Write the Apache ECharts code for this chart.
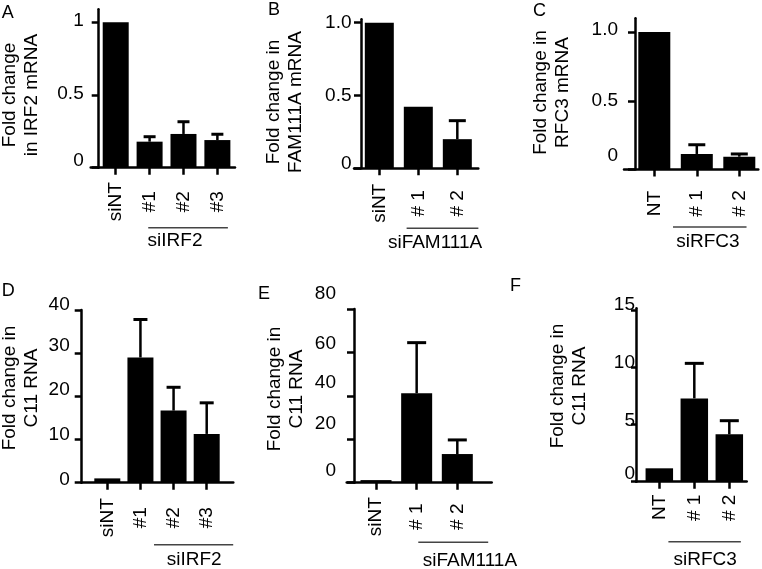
<!DOCTYPE html>
<html><head><meta charset="utf-8">
<script src="https://cdn.jsdelivr.net/npm/echarts@6/dist/echarts.min.js"></script>
<style>html,body{margin:0;padding:0;background:#fff}#c{width:762px;height:569px}</style>
</head><body><div id="c"></div>
<script>
const FONT = '"Liberation Sans", Arial, Helvetica, sans-serif';

// ---- data ----
const catsA = ['siNT', '#1', '#2', '#3'];
const valsA = [1.0, 0.179, 0.232, 0.19];
const errsA = [0, 0.034, 0.084, 0.04];
const yTicksA = [0, 0.5, 1];
const yLabelsA = ['0', '0.5', '1'];
const groupA = 'siIRF2';
const titleA = 'Fold change\nin IRF2 mRNA';

const catsB = ['siNT', '# 1', '# 2'];
const valsB = [1.0, 0.423, 0.2];
const errsB = [0, 0, 0.127];
const yTicksB = [0, 0.5, 1];
const yLabelsB = ['0', '0.5', '1.0'];
const groupB = 'siFAM111A';
const titleB = 'Fold change in\nFAM111A mRNA';

const catsC = ['NT', '# 1', '# 2'];
const valsC = [1.0, 0.113, 0.093];
const errsC = [0, 0.067, 0.02];
const yTicksC = [0, 0.5, 1];
const yLabelsC = ['0', '0.5', '1.0'];
const groupC = 'siRFC3';
const titleC = 'Fold change in\nRFC3 mRNA';

const catsD = ['siNT', '#1', '#2', '#3'];
const valsD = [1.0, 29.0, 16.7, 11.3];
const errsD = [0, 8.8, 5.4, 7.2];
const yTicksD = [0, 10, 20, 30, 40];
const yLabelsD = ['0', '10', '20', '30', '40'];
const groupD = 'siIRF2';
const titleD = 'Fold change in\nC11 RNA';

const catsE = ['siNT', '# 1', '# 2'];
const valsE = [1.2, 41.2, 13.2];
const errsE = [0, 23.3, 6.5];
const yTicksE = [0, 20, 40, 60, 80];
const yLabelsE = ['0', '20', '40', '60', '80'];
const groupE = 'siFAM111A';
const titleE = 'Fold change in\nC11 RNA';

const catsF = ['NT', '# 1', '# 2'];
const valsF = [1.17, 7.28, 4.14];
const errsF = [0, 3.06, 1.19];
const yTicksF = [0, 5, 10, 15];
const yLabelsF = ['0', '5', '10', '15'];
const groupF = 'siRFC3';
const titleF = 'Fold change in\nC11 RNA';

// ---- layout / style ----
const panels = [
  {letter:'A', cats:catsA, vals:valsA, errs:errsA, yTicks:yTicksA, yLabels:yLabelsA, group:groupA, title:titleA,
   grid:{left:90.7, top:9.3, width:144.3, height:158.4}, yOffset:-8, xMin:-0.738, xMax:3.52, yMax:1.089,
   barW:26, cap:12, yMargin:15, lift:[7,1,1], xMargin:34, xAlign:'center', tick:7,
   span:[0.96,3.31], lineDrop:60, groupX:1.75, groupDrop:73.3, titlePos:[20.8,95], letterPos:[1.7,13.3]},
  {letter:'B', cats:catsB, vals:valsB, errs:errsB, yTicks:yTicksB, yLabels:yLabelsB, group:groupB, title:titleB,
   grid:{left:354, top:19.3, width:124.3, height:149}, yOffset:-7, xMin:-0.649, xMax:2.538, yMax:1.023,
   barW:29, cap:17, yMargin:9.5, lift:[5,0,0], xMargin:35, xAlign:'center', tick:7,
   span:[0.70,2.54], lineDrop:60, groupX:1.43, groupDrop:74, titlePos:[285,102], letterPos:[268,10]},
  {letter:'C', cats:catsC, vals:valsC, errs:errsC, yTicks:yTicksC, yLabels:yLabelsC, group:groupC, title:titleC,
   grid:{left:624, top:18.3, width:134.3, height:151.2}, yOffset:-11, xMin:-0.713, xMax:2.447, yMax:1.10,
   barW:32, cap:17, yMargin:17, lift:[14,0,2], xMargin:34, xAlign:'center', tick:7,
   span:[0.44,2.17], lineDrop:57.5, groupX:1.26, groupDrop:72, titlePos:[552,92.5], letterPos:[533,11]},
  {letter:'D', cats:catsD, vals:valsD, errs:errsD, yTicks:yTicksD, yLabels:yLabelsD, group:groupD, title:titleD,
   grid:{left:81.7, top:310, width:151.6, height:172.7}, yOffset:0, xMin:-0.773, xMax:3.803, yMax:40,
   barW:26, cap:14, yMargin:12, lift:[3,5,7,7,5], xMargin:35, xAlign:'center', tick:7,
   span:[1.41,3.80], lineDrop:62, groupX:2.62, groupDrop:77, titlePos:[20.8,388], letterPos:[1.7,291.5]},
  {letter:'E', cats:catsE, vals:valsE, errs:errsE, yTicks:yTicksE, yLabels:yLabelsE, group:groupE, title:titleE,
   grid:{left:346.7, top:309, width:145, height:173.7}, yOffset:-7.3, xMin:-0.721, xMax:2.846, yMax:80,
   barW:31, cap:19, yMargin:18, lift:[12,16,13,9,15], xMargin:34, xAlign:'center', tick:7,
   span:[1.04,2.76], lineDrop:59.6, groupX:2.31, groupDrop:78, titlePos:[286,389], letterPos:[258,294]},
  {letter:'F', cats:catsF, vals:valsF, errs:errsF, yTicks:yTicksF, yLabels:yLabelsF, group:groupF, title:titleF,
   grid:{left:636, top:308.3, width:110.7, height:173.4}, yOffset:0, xMin:-0.666, xMax:2.497, yMax:15.15,
   barW:27.5, cap:19, yMargin:1, lift:[8,4,4,5], xMargin:13, xAlign:null, tick:5,
   span:[0.26,2.33], lineDrop:60, groupX:1.31, groupDrop:78, titlePos:[569,386], letterPos:[510,286.5]}
];

const FS = 19;
const AX = {color:'#000', width:2.5};

const chart = echarts.init(document.getElementById('c'), null, {renderer:'canvas'});
const grids = [], xAxes = [], yAxes = [], series = [];

panels.forEach((p, i) => {
  grids.push(Object.assign({containLabel:false}, p.grid));
  const idx = p.cats.map((c, k) => k);
  const xLabel = {
    customValues: idx, rotate: 90, margin: p.xMargin, verticalAlign: 'middle',
    fontSize: FS, fontFamily: FONT, color: '#000',
    formatter: v => p.cats[Math.round(v)]
  };
  if (p.xAlign) xLabel.align = p.xAlign;
  xAxes.push({
    gridIndex: i, type: 'value', min: p.xMin, max: p.xMax, position: 'bottom',
    axisLine: {show: true, onZero: false, lineStyle: AX},
    axisTick: {show: true, customValues: idx, length: 7, lineStyle: AX},
    axisLabel: xLabel, splitLine: {show: false}
  });
  const rich = {};
  p.yTicks.forEach((t, k) => {
    rich['t' + k] = {fontSize: FS, fontFamily: FONT, color: '#000', padding: [0, 0, 2 * p.lift[k], 0]};
  });
  yAxes.push({
    gridIndex: i, type: 'value', min: 0, max: p.yMax, position: 'left', offset: p.yOffset,
    axisLine: {show: true, onZero: false, lineStyle: AX},
    axisTick: {show: true, customValues: p.yTicks, length: p.tick, lineStyle: AX},
    axisLabel: {
      customValues: p.yTicks, margin: p.yMargin, fontSize: FS, fontFamily: FONT, color: '#000',
      formatter: v => { const k = p.yTicks.indexOf(v); return '{t' + k + '|' + p.yLabels[k] + '}'; },
      rich: rich
    },
    splitLine: {show: false}
  });
  series.push({
    type: 'bar', xAxisIndex: i, yAxisIndex: i, barWidth: p.barW,
    itemStyle: {color: '#000'},
    data: p.vals.map((v, k) => [k, v])
  });
  series.push({
    type: 'custom', xAxisIndex: i, yAxisIndex: i, clip: false, z: 3,
    data: p.vals.map((v, k) => [k, v, p.errs[k]]).filter(d => d[2] > 0),
    renderItem: (params, api) => {
      const x = api.value(0), v = api.value(1), e = api.value(2);
      const p0 = api.coord([x, v]), p1 = api.coord([x, v + e]);
      return {type: 'group', children: [
        {type: 'line', shape: {x1: p0[0], y1: p0[1], x2: p1[0], y2: p1[1]}, style: {stroke: '#000', lineWidth: 2.5}},
        {type: 'line', shape: {x1: p1[0] - p.cap / 2, y1: p1[1], x2: p1[0] + p.cap / 2, y2: p1[1]}, style: {stroke: '#000', lineWidth: 3}}
      ]};
    }
  });
});

chart.setOption({
  animation: false,
  backgroundColor: '#fff',
  grid: grids, xAxis: xAxes, yAxis: yAxes, series: series
});

const graphics = [];
panels.forEach((p, i) => {
  const a = chart.convertToPixel({gridIndex: i}, [p.span[0], 0]);
  const b = chart.convertToPixel({gridIndex: i}, [p.span[1], 0]);
  const g = chart.convertToPixel({gridIndex: i}, [p.groupX, 0]);
  graphics.push({type: 'line', silent: true,
    shape: {x1: a[0], y1: a[1] + p.lineDrop, x2: b[0], y2: b[1] + p.lineDrop},
    style: {stroke: '#444', lineWidth: 1.5}});
  graphics.push({type: 'text', silent: true, x: g[0], y: g[1] + p.groupDrop,
    style: {text: p.group, fontSize: FS, fontFamily: FONT, fill: '#000', align: 'center', verticalAlign: 'middle'}});
  graphics.push({type: 'text', silent: true, x: p.titlePos[0], y: p.titlePos[1], rotation: Math.PI / 2,
    style: {text: p.title, fontSize: FS, fontFamily: FONT, fill: '#000', align: 'center', verticalAlign: 'middle', lineHeight: 21.7}});
  graphics.push({type: 'text', silent: true, x: p.letterPos[0], y: p.letterPos[1],
    style: {text: p.letter, fontSize: 18, fontFamily: FONT, fill: '#000', align: 'left', verticalAlign: 'middle'}});
});
chart.setOption({graphic: graphics});
</script>
</body></html>
